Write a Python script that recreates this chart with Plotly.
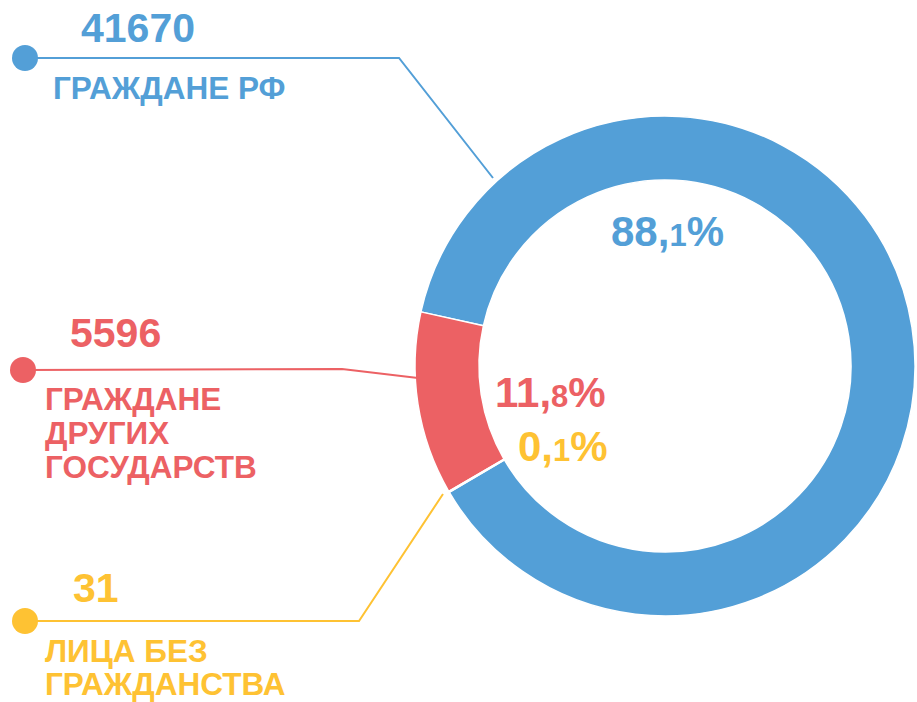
import plotly.graph_objects as go

# ---- data ----
categories = ["ГРАЖДАНЕ РФ", "ГРАЖДАНЕ<br>ДРУГИХ<br>ГОСУДАРСТВ", "ЛИЦА БЕЗ<br>ГРАЖДАНСТВА"]
values = [41670, 5596, 31]
colors = ["#539FD7", "#EC6164", "#FEC233"]

W, H = 917, 702
FONT = "Liberation Sans, Arial, sans-serif"

def px(x):
    return x / W

def py(y):
    return 1 - y / H

total = sum(values)

fig = go.Figure()
fig.add_trace(go.Pie(
    labels=[c.replace("<br>", " ") for c in categories],
    values=values,
    hole=0.744,
    sort=False,
    direction="counterclockwise",
    rotation=-77.5,
    marker=dict(colors=colors, line=dict(color="white", width=1.5)),
    textinfo="none",
    hoverinfo="label+value+percent",
    showlegend=False,
    domain=dict(x=[px(415), px(915)], y=[py(616), py(116)]),
))

def pct_text(v):
    p = 100 * v / total
    s = f"{p:.1f}"
    whole, dec = s.split(".")
    return f"{whole},<span style='font-size:31px'>{dec}</span>%"

annotations = []
shapes = []

# label layout (positions only)
num_pos = [(80, 28), (69, 333), (72, 588)]
lab_x = [52, 44, 44]
lab_y0 = [88, 399, 651]
lab_step = [34, 34, 33]
dot_pos = [(25, 58), (23, 370), (25, 621)]
line_paths = [
    [(25, 58), (399, 58), (493, 178)],
    [(23, 370), (342, 369), (418, 378)],
    [(25, 621), (359, 621), (443, 494)],
]
pct_pos = [(667, 232), (550, 392), (563, 447)]

for i in range(3):
    c = colors[i]
    annotations.append(dict(
        x=px(num_pos[i][0]), y=py(num_pos[i][1]), xref="paper", yref="paper",
        xanchor="left", yanchor="middle", showarrow=False, borderpad=0,
        text=f"<b>{values[i]}</b>", font=dict(family=FONT, size=41, color=c)))
    for j, line in enumerate(categories[i].split("<br>")):
        annotations.append(dict(
            x=px(lab_x[i]), y=py(lab_y0[i] + j * lab_step[i]), xref="paper", yref="paper",
            xanchor="left", yanchor="middle", align="left", showarrow=False, borderpad=0,
            text=f"<b>{line}</b>", font=dict(family=FONT, size=31.5, color=c)))
    annotations.append(dict(
        x=px(pct_pos[i][0]), y=py(pct_pos[i][1]), xref="paper", yref="paper",
        xanchor="center", yanchor="middle", showarrow=False, borderpad=0,
        text=f"<b>{pct_text(values[i])}</b>", font=dict(family=FONT, size=42, color=c)))
    pts = line_paths[i]
    path = "M " + " L ".join(f"{px(x)},{py(y)}" for x, y in pts)
    shapes.append(dict(type="path", xref="paper", yref="paper", path=path,
                       line=dict(color=c, width=2)))
    dx, dy = dot_pos[i]
    r = 13
    shapes.append(dict(type="circle", xref="paper", yref="paper",
                       x0=px(dx - r), x1=px(dx + r), y0=py(dy + r), y1=py(dy - r),
                       fillcolor=c, line=dict(width=0)))

fig.update_layout(
    width=W, height=H,
    margin=dict(l=0, r=0, t=0, b=0),
    paper_bgcolor="white", plot_bgcolor="white",
    annotations=annotations, shapes=shapes,
    showlegend=False,
)

fig.write_html("out.html", config={"displayModeBar": False},
               post_script="document.body.style.margin='0';")
